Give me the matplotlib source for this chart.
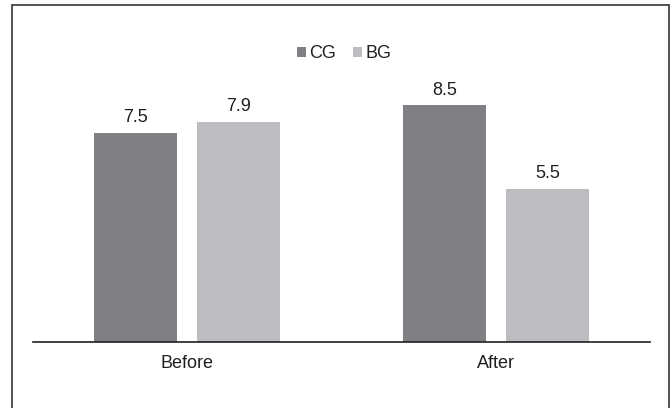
import numpy as np
import matplotlib.pyplot as plt
from matplotlib.patches import Rectangle

plt.rcParams['font.family'] = ['Liberation Sans', 'DejaVu Sans']

#data
groups = ['Before', 'After']
series = ['CG', 'BG']
cg_vals = [7.5, 8.5]
bg_vals = [7.9, 5.5]

colors = ['#808084', '#bcbdc0']
txt = '#231f20'

fig = plt.figure(figsize=(6.72, 4.08), dpi=100)
ax = fig.add_axes([33/672, 1-342/408, 617/672, 293/408])

x = np.arange(len(groups))
w = 0.27
off = 0.167
b1 = ax.bar(x - off, cg_vals, w, color=colors[0], label=series[0])
b2 = ax.bar(x + off, bg_vals, w, color=colors[1], label=series[1])

for bars, vals in [(b1, cg_vals), (b2, bg_vals)]:
    for r, v in zip(bars, vals):
        ax.annotate(str(v), (r.get_x() + r.get_width()/2, v), xytext=(0, 4.5),
                    textcoords='offset points', ha='center', va='bottom',
                    fontsize=13, color=txt)

ax.set_xlim(-0.5, 1.5)
ax.set_ylim(0, 10.5)
ax.set_xticks(x)
ax.set_xticklabels(groups, fontsize=13, color=txt)
ax.tick_params(axis='x', length=0, pad=9)
ax.set_yticks([])
for s in ['top', 'right', 'left']:
    ax.spines[s].set_visible(False)
ax.spines['bottom'].set_color('#231f20')
ax.spines['bottom'].set_linewidth(1.2)

ax.legend(loc='center', bbox_to_anchor=(344/672, 1-54/408), bbox_transform=fig.transFigure,
          ncol=2, frameon=False, fontsize=13, handlelength=0.5, handleheight=0.5,
          handletextpad=0.2, columnspacing=0.9, labelcolor=txt)

#outer frame
fig.patches.append(Rectangle((12/672, -0.05), 657/672, 1.05 - 5/408, transform=fig.transFigure,
                             fill=False, edgecolor='#333333', linewidth=1.2, clip_on=False))

fig.savefig('out.png', dpi=100)
